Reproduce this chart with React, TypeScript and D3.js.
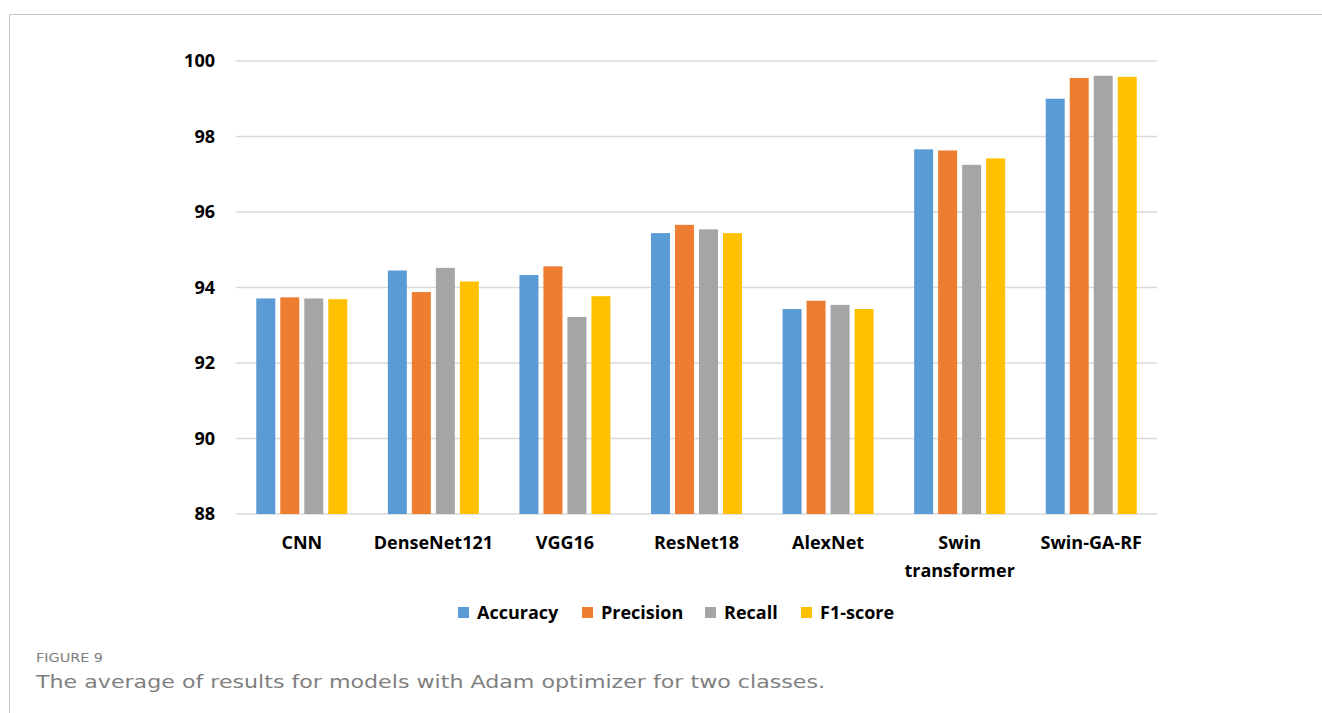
import React from "react";
import * as d3 from "d3";

const categories: string[][] = [
  ["CNN"],
  ["DenseNet121"],
  ["VGG16"],
  ["ResNet18"],
  ["AlexNet"],
  ["Swin", "transformer"],
  ["Swin-GA-RF"],
];
const seriesNames = ["Accuracy", "Precision", "Recall", "F1-score"];
const seriesColors = ["#5B9BD5", "#ED7D31", "#A5A5A5", "#FFC000"];
const accuracy = [93.71, 94.45, 94.33, 95.44, 93.43, 97.66, 99.0];
const precision = [93.74, 93.88, 94.56, 95.66, 93.65, 97.63, 99.55];
const recall = [93.71, 94.52, 93.22, 95.54, 93.54, 97.25, 99.61];
const f1score = [93.69, 94.16, 93.77, 95.44, 93.43, 97.42, 99.58];
const yTicks = [88, 90, 92, 94, 96, 98, 100];

const series = [accuracy, precision, recall, f1score];

export default function App() {
  const W = 1322;
  const H = 713;
  const left = 236;
  const right = 1157;
  const top = 61;
  const bottom = 514;
  const x = d3.scaleBand<number>().domain(d3.range(categories.length)).range([left, right]);
  const y = d3.scaleLinear().domain([88, 100]).range([bottom, top]);
  const bw = 19;
  const step = 24;
  const font = "'Open Sans', 'Noto Sans', sans-serif";
  const capFont = "'DejaVu Sans', 'Open Sans', sans-serif";
  const legendX = [458, 582, 705, 801];

  return (
    <svg width={W} height={H} style={{ position: "absolute", left: 0, top: 0 }}>
      <rect x={0} y={0} width={W} height={H} fill="#fff" />
      <line x1={9.5} y1={14.5} x2={W} y2={14.5} stroke="#c8c8c8" strokeWidth={1} />
      <line x1={9.5} y1={14.5} x2={9.5} y2={H} stroke="#c8c8c8" strokeWidth={1} />
      {yTicks.map((t) => (
        <g key={t}>
          <line x1={left} x2={right} y1={y(t)} y2={y(t)} stroke="#d9d9d9" strokeWidth={1.5} />
          <text x={215} y={y(t)} dy="0.35em" textAnchor="end" fontFamily={font} fontWeight="bold" fontSize={18} fill="#000">
            {t}
          </text>
        </g>
      ))}
      {categories.map((c, i) => {
        const cx = (x(i) as number) + x.bandwidth() / 2;
        return (
          <g key={i}>
            {series.map((s, j) => {
              const bx = cx + (j - 1.5) * step - bw / 2;
              return (
                <rect key={j} x={bx} y={y(s[i])} width={bw} height={y(88) - y(s[i])} fill={seriesColors[j]} />
              );
            })}
            {c.map((line, k) => (
              <text key={k} x={cx} y={549 + k * 28} textAnchor="middle" fontFamily={font} fontWeight="bold" fontSize={18} fill="#000">
                {line}
              </text>
            ))}
          </g>
        );
      })}
      {seriesNames.map((n, j) => (
        <g key={n}>
          <rect x={legendX[j]} y={607} width={11} height={11} fill={seriesColors[j]} />
          <text x={legendX[j] + 19} y={619} fontFamily={font} fontWeight="bold" fontSize={18} fill="#000">
            {n}
          </text>
        </g>
      ))}
      <text x={36} y={662} fontFamily={capFont} fontSize={13} fill="#808080" textLength={67} lengthAdjust="spacingAndGlyphs">
        FIGURE 9
      </text>
      <text x={36} y={688} fontFamily={capFont} fontSize={17} fill="#808080" textLength={789} lengthAdjust="spacingAndGlyphs">
        The average of results for models with Adam optimizer for two classes.
      </text>
    </svg>
  );
}
